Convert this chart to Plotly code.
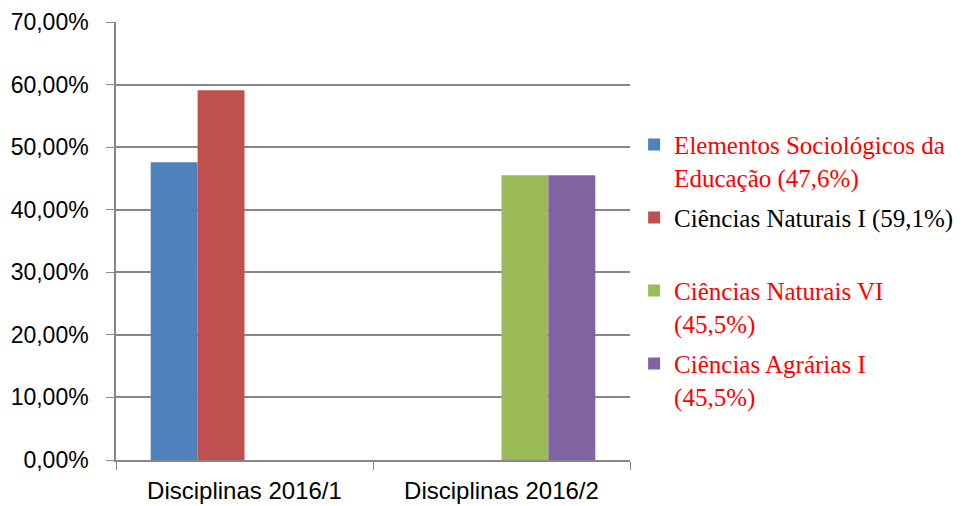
import plotly.graph_objects as go

categories = ["Disciplinas 2016/1", "Disciplinas 2016/2"]
series_names = [
    '<span style="color:#FF0000">Elementos Sociológicos da<br>Educação (47,6%)</span>',
    'Ciências Naturais I (59,1%)<br> ',
    '<span style="color:#FF0000">Ciências Naturais VI<br>(45,5%)</span>',
    '<span style="color:#FF0000">Ciências Agrárias I<br>(45,5%)</span>',
]
series_values = [
    [0.476, None],
    [0.591, None],
    [None, 0.455],
    [None, 0.455],
]
series_colors = ["#4F81BD", "#C0504D", "#9BBB59", "#8064A2"]
y_ticks = [0, 0.1, 0.2, 0.3, 0.4, 0.5, 0.6, 0.7]

fig = go.Figure()
for i, (name, vals, col) in enumerate(zip(series_names, series_values, series_colors)):
    fig.add_trace(go.Bar(x=categories, y=vals, name=name, marker_color=col,
                         marker_line_width=0, legendgroup=f"g{i}"))

axis_col = "#878787"
fig.update_layout(
    width=963, height=498,
    margin=dict(l=108, r=339, t=14, b=46),
    plot_bgcolor="white", paper_bgcolor="white",
    barmode="group", bargap=0.27, bargroupgap=0,
    separators=",.",
    showlegend=True,
    legend=dict(
        x=1.008, xanchor="left", y=0.772, yanchor="top",
        font=dict(family="Liberation Serif", size=25, color="black"),
        valign="top", traceorder="grouped", tracegroupgap=5,
        itemwidth=30, bgcolor="rgba(0,0,0,0)",
    ),
    xaxis=dict(
        showline=True, linecolor=axis_col, linewidth=1.5,
        ticks="outside", tickson="boundaries", ticklen=8, tickcolor=axis_col,
        tickfont=dict(family="Liberation Sans", size=24, color="black"),
        ticklabelstandoff=8, automargin=False,
        showgrid=False,
    ),
    yaxis=dict(
        range=[0, 0.7], tickvals=y_ticks, tickformat=".2%",
        showline=True, linecolor=axis_col, linewidth=1.5,
        ticks="outside", ticklen=8, tickcolor=axis_col,
        gridcolor=axis_col, gridwidth=1.5,
        tickfont=dict(family="Liberation Sans", size=23, color="black"),
        ticklabelstandoff=13, automargin=False,
        zeroline=False,
    ),
)

fig.write_html("out.html")
